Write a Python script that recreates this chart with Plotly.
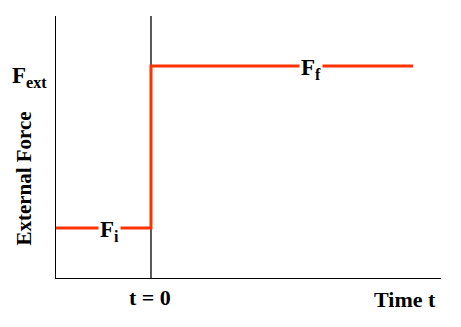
import plotly.graph_objects as go

# Data
time_points = [-1.0, 0.0, 0.0, 2.76]
force_values = [1.0, 1.0, 4.0, 4.0]
label_initial = "F<sub>i</sub>"
label_final = "F<sub>f</sub>"
label_initial_t = -0.44
label_final_t = 1.68
ext_label = "F<sub>ext</sub>"
x_title = "Time t"
y_title = "External Force"
tick_label = "t = 0"

FONT = "Liberation Serif"
RED = "#ff3300"

fig = go.Figure()
fig.add_trace(go.Scatter(x=time_points, y=force_values, mode="lines",
                         line=dict(color=RED, width=3), hoverinfo="skip",
                         showlegend=False))

fig.add_shape(type="line", x0=0, x1=0, y0=0, y1=1, xref="x", yref="paper",
              line=dict(color="black", width=1.3), layer="below")

for t, f, lab in [(label_initial_t, force_values[0], label_initial),
                  (label_final_t, force_values[-1], label_final)]:
    fig.add_annotation(x=t, y=f, text=lab, showarrow=False, bgcolor="white",
                       font=dict(family=FONT, size=23, color="black", weight="bold"),
                       xanchor="center", yanchor="middle", borderpad=1, yshift=-3)

fig.add_annotation(x=-0.1195, y=4.0, xref="paper", yref="y", text=ext_label,
                   showarrow=False, xanchor="left", yanchor="middle",
                   font=dict(family=FONT, size=23, color="black", weight="bold"),
                   yshift=-11)
fig.add_annotation(x=0, y=-0.02, xref="x", yref="paper", text=tick_label,
                   showarrow=False, xanchor="center", yanchor="top",
                   font=dict(family=FONT, size=22, color="black", weight="bold"),
                   xshift=-1)
fig.add_annotation(x=0.992, y=-0.025, xref="paper", yref="paper", text=x_title,
                   showarrow=False, xanchor="right", yanchor="top",
                   font=dict(family=FONT, size=22, color="black", weight="bold"))
fig.add_annotation(x=-0.084, y=0.378, xref="paper", yref="paper", text=y_title,
                   showarrow=False, xanchor="center", yanchor="middle", textangle=-90,
                   font=dict(family=FONT, size=21, color="black", weight="bold"))

fig.update_xaxes(range=[-1.0, 3.053], showline=True, linecolor="black", linewidth=1.3,
                 showgrid=False, zeroline=False, showticklabels=False, ticks="")
fig.update_yaxes(range=[0.074, 4.926], showline=True, linecolor="black", linewidth=1.3,
                 showgrid=False, zeroline=False, showticklabels=False, ticks="")

fig.update_layout(width=461, height=327, margin=dict(l=56, r=20, t=16, b=49),
                  plot_bgcolor="white", paper_bgcolor="white", showlegend=False)

fig.write_html("out.html")
